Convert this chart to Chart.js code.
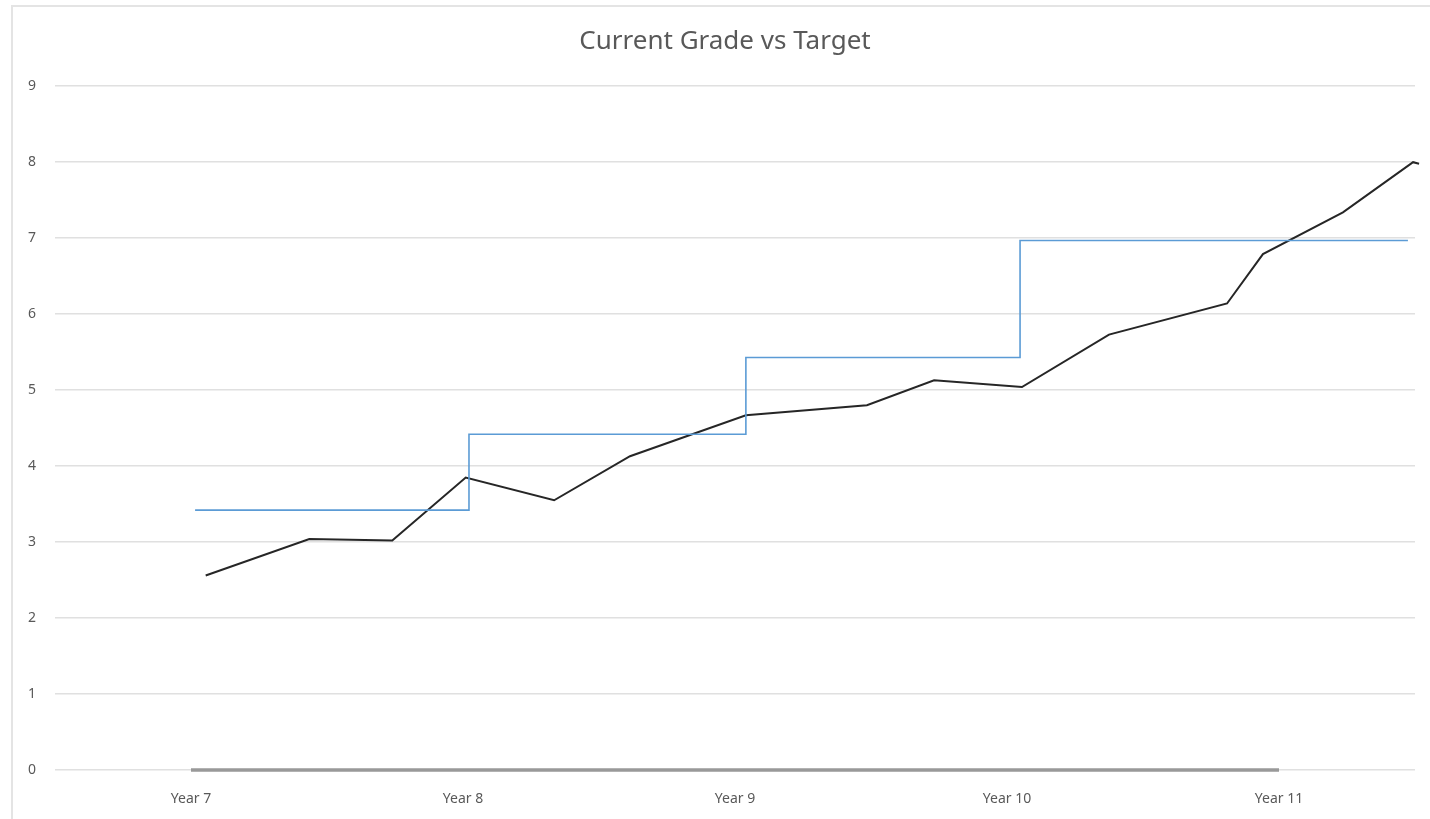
<!DOCTYPE html>
<html>
<head>
<meta charset="utf-8">
<title>Current Grade vs Target</title>
<script src="https://cdn.jsdelivr.net/npm/chart.js@4"></script>
<style>
    html, body { margin: 0; background: #fff; overflow: hidden; }
    .frame {
        position: absolute; left: 11px; top: 5px;
        width: 1419px; height: 814px;
        border-left: 2px solid #e4e4e4;
        border-top: 2px solid #e4e4e4;
    }
    .wrap { position: absolute; left: 0; top: 0; width: 1430px; height: 819px; }
</style>
</head>
<body>
<div class="frame"></div>
<div class="wrap"><canvas id="chart1" width="1430" height="819"></canvas></div>
<script>
// kategorier på x-aksen
const yearLabels = ['Year 7', 'Year 8', 'Year 9', 'Year 10', 'Year 11'];

// nuværende karakter (x = position mellem årene)
const gradeX = [0.054, 0.435, 0.740, 1.010, 1.335, 1.614, 2.040, 2.485, 2.732, 3.055, 3.375, 3.809, 3.941, 4.235, 4.493, 4.515];
const gradeY = [2.56, 3.04, 3.02, 3.85, 3.55, 4.13, 4.67, 4.80, 5.13, 5.04, 5.73, 6.14, 6.79, 7.34, 8.00, 7.98];

// mål (trappe)
const targetX = [0.015, 1.022, 2.040, 3.048, 4.474];
const targetY = [3.42, 4.42, 5.43, 6.97, 6.97];

// grå linje ved 0
const baseY = [0, 0, 0, 0, 0];

const yTicks = [0, 1, 2, 3, 4, 5, 6, 7, 8, 9];

const toPoints = (xs, ys) => xs.map((x, i) => ({ x: x, y: ys[i] }));

// skub titlen lidt mod højre som i Excel
const shiftTitle = {
    id: 'shiftTitle',
    afterLayout: chart => { chart.titleBlock.left += 35; }
};

const ctx = document.getElementById('chart1').getContext('2d');
const lineChart = new Chart(ctx, {
    type: 'line',
    data: {
        datasets: [{
            label: 'Base',
            data: toPoints(yearLabels.map((l, i) => i), baseY),
            borderColor: '#999999',
            borderWidth: 3.5,
            pointRadius: 0,
            clip: false,
        }, {
            label: 'Target',
            data: toPoints(targetX, targetY),
            borderColor: '#5b9bd5',
            borderWidth: 1.6,
            stepped: true,
            pointRadius: 0,
        }, {
            label: 'Current Grade',
            data: toPoints(gradeX, gradeY),
            borderColor: '#262626',
            borderWidth: 2,
            pointRadius: 0,
            tension: 0,
            clip: false,
        }]
    },
    plugins: [shiftTitle],
    options: {
        responsive: false,
        animation: false,
        layout: { padding: { left: 0, right: 15, top: 0, bottom: 0 } },
        scales: {
            x: {
                type: 'linear',
                min: -0.5,
                max: 4.5,
                afterBuildTicks: s => { s.ticks = yearLabels.map((l, i) => ({ value: i })); },
                afterFit: s => { s.height = 49; },
                ticks: {
                    color: '#595959',
                    font: { family: 'Noto Sans', size: 14 },
                    padding: 13,
                    maxRotation: 0,
                    callback: (v) => yearLabels[v],
                },
                grid: { display: false },
                border: { display: false },
            },
            y: {
                min: 0,
                max: 9,
                afterBuildTicks: s => { s.ticks = yTicks.map(v => ({ value: v })); },
                afterFit: s => { s.width = 55; },
                ticks: {
                    color: '#595959',
                    font: { family: 'Noto Sans', size: 14 },
                    padding: 19,
                },
                grid: { color: '#e0e0e0', lineWidth: 1.5, drawTicks: false },
                border: { display: false },
            }
        },
        plugins: {
            legend: { display: false },
            tooltip: { enabled: false },
            title: {
                display: true,
                text: 'Current Grade vs Target',
                color: '#595959',
                font: { family: 'Noto Sans', size: 26, weight: 'normal' },
                padding: { top: 26, bottom: 29 },
            }
        }
    }
});
</script>
</body>
</html>
